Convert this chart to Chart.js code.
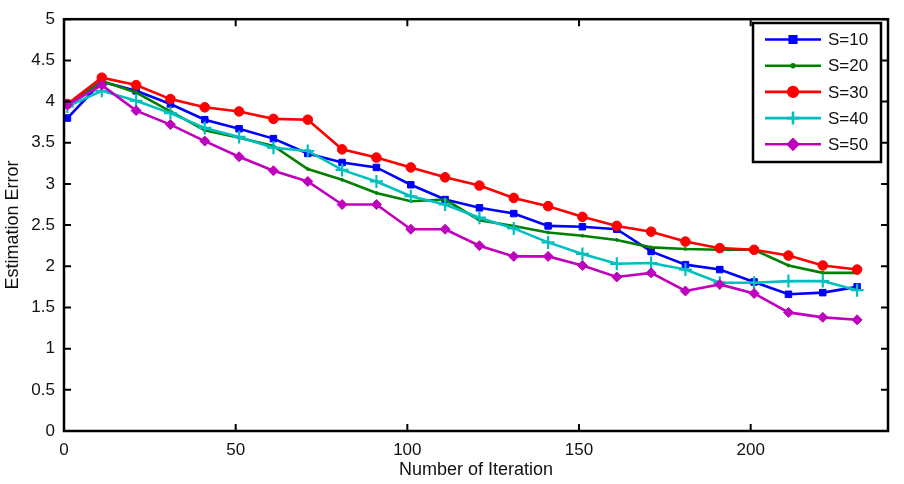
<!DOCTYPE html>
<html>
<head>
<meta charset="utf-8">
<script src="https://cdn.jsdelivr.net/npm/chart.js@4.4.1/dist/chart.umd.min.js"></script>
<style>
  html, body { margin: 0; padding: 0; background: #fff; }
  #wrap { width: 904px; height: 484px; }
</style>
</head>
<body>
<div id="wrap"><canvas id="errChart" width="904" height="484"></canvas></div>
<script>
// iteration numbers where each run was sampled
const iterations = [1, 11, 21, 31, 41, 51, 61, 71, 81, 91, 101, 111, 121, 131, 141, 151, 161, 171, 181, 191, 201, 211, 221, 231];

const s10 = [3.80, 4.24, 4.13, 3.97, 3.78, 3.67, 3.55, 3.37, 3.26, 3.20, 2.99, 2.81, 2.71, 2.64, 2.49, 2.48, 2.45, 2.18, 2.02, 1.96, 1.81, 1.66, 1.68, 1.75];
const s20 = [3.95, 4.25, 4.11, 3.88, 3.65, 3.56, 3.46, 3.18, 3.05, 2.89, 2.79, 2.81, 2.56, 2.49, 2.41, 2.37, 2.32, 2.23, 2.21, 2.20, 2.20, 2.01, 1.92, 1.92];
const s30 = [3.97, 4.29, 4.20, 4.03, 3.93, 3.88, 3.79, 3.78, 3.42, 3.32, 3.20, 3.08, 2.98, 2.83, 2.73, 2.60, 2.49, 2.42, 2.30, 2.22, 2.20, 2.13, 2.01, 1.96];
const s40 = [3.94, 4.13, 4.01, 3.86, 3.68, 3.57, 3.44, 3.40, 3.17, 3.03, 2.85, 2.75, 2.59, 2.46, 2.29, 2.15, 2.03, 2.04, 1.96, 1.80, 1.80, 1.82, 1.82, 1.71];
const s50 = [3.96, 4.20, 3.89, 3.72, 3.52, 3.33, 3.16, 3.03, 2.75, 2.75, 2.45, 2.45, 2.25, 2.12, 2.12, 2.01, 1.87, 1.92, 1.70, 1.78, 1.67, 1.44, 1.38, 1.35];

const seriesLabels = ['S=10', 'S=20', 'S=30', 'S=40', 'S=50'];
const xTicks = [0, 50, 100, 150, 200];
const yTicks = [0, 0.5, 1, 1.5, 2, 2.5, 3, 3.5, 4, 4.5, 5];

const FONT = 'Liberation Sans, Arial, Helvetica, sans-serif';

function toPoints(values) {
    return values.map((v, i) => ({ x: iterations[i], y: v }));
}

function makeSet(label, values, color, style, radius, order) {
    return {
        label: label,
        data: toPoints(values),
        borderColor: color,
        backgroundColor: color,
        borderWidth: 2.6,
        pointStyle: style,
        pointRadius: radius,
        pointBorderWidth: style === 'cross' ? 2.2 : 1,
        pointBackgroundColor: color,
        pointBorderColor: color,
        tension: 0,
        order: order
    };
}

// box round the plot, inward ticks on all four sides, and a boxed legend
const matlabFrame = {
    id: 'matlabFrame',
    afterDraw(chart) {
        const ctx = chart.ctx;
        const a = chart.chartArea;
        const xs = chart.scales.x;
        const ys = chart.scales.y;
        ctx.save();
        ctx.strokeStyle = '#000';
        ctx.lineWidth = 2.5;
        ctx.strokeRect(a.left, a.top, a.right - a.left, a.bottom - a.top);
        ctx.lineWidth = 2;
        ctx.beginPath();
        xTicks.forEach(t => {
            const px = xs.getPixelForValue(t);
            ctx.moveTo(px, a.bottom); ctx.lineTo(px, a.bottom - 7);
            ctx.moveTo(px, a.top); ctx.lineTo(px, a.top + 7);
        });
        yTicks.forEach(t => {
            const py = ys.getPixelForValue(t);
            ctx.moveTo(a.left, py); ctx.lineTo(a.left + 7, py);
            ctx.moveTo(a.right, py); ctx.lineTo(a.right - 7, py);
        });
        ctx.stroke();

        // legend
        const bx = 753, by = 23, bw = 128, bh = 139;
        ctx.fillStyle = '#fff';
        ctx.fillRect(bx, by, bw, bh);
        ctx.lineWidth = 2.5;
        ctx.strokeRect(bx, by, bw, bh);
        ctx.font = '17px ' + FONT;
        ctx.textBaseline = 'middle';
        ctx.textAlign = 'left';
        chart.data.datasets.forEach((ds, i) => {
            const y = by + 16.5 + i * 26.2;
            ctx.strokeStyle = ds.borderColor;
            ctx.lineWidth = ds.borderWidth;
            ctx.beginPath();
            ctx.moveTo(765, y); ctx.lineTo(821, y);
            ctx.stroke();
            ctx.fillStyle = ds.borderColor;
            Chart.helpers.drawPoint(ctx, {
                pointStyle: ds.pointStyle,
                radius: ds.pointRadius,
                rotation: 0,
                borderWidth: ds.pointBorderWidth
            }, 793, y);
            ctx.fillStyle = '#111';
            ctx.fillText(ds.label, 828, y + 1);
        });
        ctx.restore();
    }
};

const ctx = document.getElementById('errChart').getContext('2d');
new Chart(ctx, {
    type: 'line',
    data: {
        datasets: [
            makeSet(seriesLabels[0], s10, '#0000ff', 'rect', 4.6, 5),
            makeSet(seriesLabels[1], s20, '#008000', 'circle', 1.4, 4),
            makeSet(seriesLabels[2], s30, '#ff0000', 'circle', 4.8, 3),
            makeSet(seriesLabels[3], s40, '#00bfbf', 'cross', 6.5, 2),
            makeSet(seriesLabels[4], s50, '#bf00bf', 'rectRot', 5, 1)
        ]
    },
    options: {
        responsive: false,
        animation: false,
        layout: { padding: { left: 0, right: 16, top: 13, bottom: 0 } },
        plugins: {
            legend: { display: false },
            tooltip: { enabled: false }
        },
        scales: {
            x: {
                type: 'linear',
                min: 0,
                max: 240,
                afterBuildTicks: scale => { scale.ticks = xTicks.map(v => ({ value: v })); },
                afterFit: scale => { scale.height = 53; },
                grid: { display: false, drawTicks: false },
                border: { display: false },
                ticks: {
                    padding: 9,
                    color: '#111',
                    font: { family: FONT, size: 17 },
                    maxRotation: 0,
                    callback: v => String(v)
                },
                title: {
                    display: true,
                    text: 'Number of Iteration',
                    color: '#111',
                    font: { family: FONT, size: 18 },
                    padding: { top: 0, bottom: 3 }
                }
            },
            y: {
                min: 0,
                max: 5,
                afterBuildTicks: scale => { scale.ticks = yTicks.map(v => ({ value: v })); },
                afterFit: scale => { scale.width = 64; },
                grid: { display: false, drawTicks: false },
                border: { display: false },
                ticks: {
                    padding: 9,
                    color: '#111',
                    font: { family: FONT, size: 17 },
                    callback: v => String(v)
                },
                title: {
                    display: true,
                    text: 'Estimation Error',
                    color: '#111',
                    font: { family: FONT, size: 18 },
                    padding: { top: 2, bottom: 0 }
                }
            }
        }
    },
    plugins: [matlabFrame]
});
</script>
</body>
</html>
